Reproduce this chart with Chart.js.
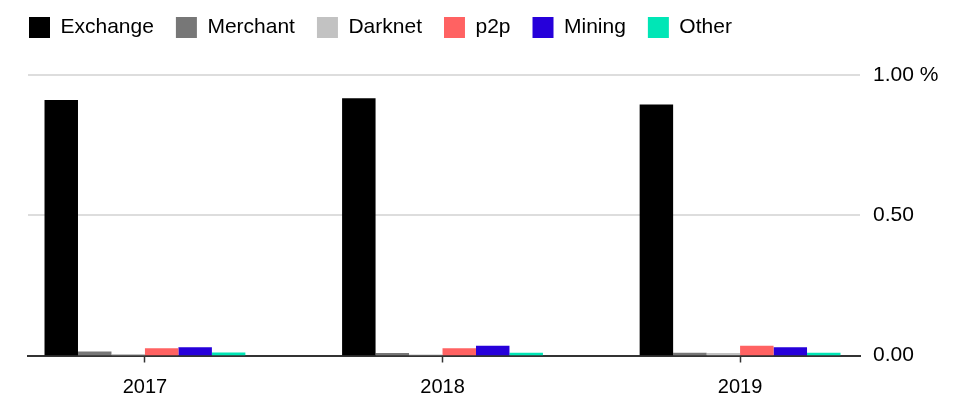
<!DOCTYPE html>
<html>
<head>
<meta charset="utf-8">
<script src="https://cdn.jsdelivr.net/npm/chart.js@4/dist/chart.umd.min.js"></script>
<style>
  html, body { margin: 0; padding: 0; background: #fff; }
  #wrap { width: 960px; height: 409px; }
</style>
</head>
<body>
<div id="wrap"><canvas id="myBarChart"></canvas></div>
<script>
// categories and values (share, 1.00 = 100 %)
var years = ['2017', '2018', '2019'];
var exchange = [0.911, 0.917, 0.895];
var merchant = [0.014, 0.009, 0.010];
var darknet = [0.005, 0.004, 0.009];
var p2p = [0.026, 0.026, 0.035];
var mining = [0.029, 0.035, 0.029];
var other = [0.011, 0.010, 0.010];
var yTicks = [0, 0.5, 1];

var FONT = '"Liberation Sans", Arial, Helvetica, sans-serif';

function pts(arr) {
    return arr.map(function (v, i) { return { x: i, y: v }; });
}

function ds(label, arr, color) {
    return {
        label: label,
        data: pts(arr),
        backgroundColor: color,
        borderWidth: 0,
        categoryPercentage: 0.675,
        barPercentage: 1.0
    };
}

var ctx = document.getElementById('myBarChart').getContext('2d');
var myBarChart = new Chart(ctx, {
    type: 'bar',
    data: {
        datasets: [
            ds('Exchange', exchange, '#000000'),
            ds('Merchant', merchant, '#777777'),
            ds('Darknet', darknet, '#c2c2c2'),
            ds('p2p', p2p, '#ff6262'),
            ds('Mining', mining, '#2600da'),
            ds('Other', other, '#00e6b6')
        ]
    },
    options: {
        responsive: true,
        maintainAspectRatio: false,
        animation: false,
        layout: { padding: { top: -5, left: 7, right: 0, bottom: 0 } },
        scales: {
            x: {
                type: 'linear',
                position: 'bottom',
                offset: false,
                min: -0.393,
                max: 2.403,
                afterBuildTicks: function (s) {
                    s.ticks = years.map(function (_, i) { return { value: i }; });
                },
                afterFit: function (s) { s.height = 53.5; },
                ticks: {
                    color: '#000',
                    font: { family: FONT, size: 20 },
                    padding: 13,
                    maxRotation: 0,
                    callback: function (v) { return years[v]; }
                },
                grid: {
                    display: true,
                    offset: false,
                    drawOnChartArea: false,
                    drawTicks: true,
                    tickLength: 7,
                    tickWidth: 1.5,
                    tickColor: '#333'
                },
                border: { display: true, color: '#333', width: 2 }
            },
            xtop: {
                type: 'linear',
                axis: 'x',
                position: 'top',
                offset: false,
                afterFit: function (s) { s.height = 27; },
                ticks: { display: false },
                grid: { display: false },
                border: { display: false }
            },
            yleft: {
                type: 'linear',
                axis: 'y',
                position: 'left',
                afterFit: function (s) { s.width = 21; },
                ticks: { display: false },
                grid: { display: false },
                border: { display: false }
            },
            y: {
                position: 'right',
                min: 0,
                max: 1,
                afterBuildTicks: function (s) {
                    s.ticks = yTicks.map(function (v) { return { value: v }; });
                },
                afterFit: function (s) { s.width = 100; },
                ticks: {
                    color: '#000',
                    font: { family: FONT, size: 21 },
                    padding: 13,
                    callback: function (v) {
                        return v === 1 ? '1.00 %' : v.toFixed(2);
                    }
                },
                grid: {
                    drawTicks: false,
                    lineWidth: 2,
                    color: function (c) {
                        return c.tick && c.tick.value === 0 ? 'rgba(0,0,0,0)' : '#dddddd';
                    }
                },
                border: { display: false }
            }
        },
        plugins: {
            legend: {
                display: true,
                position: 'top',
                align: 'start',
                labels: {
                    boxWidth: 21,
                    boxHeight: 21,
                    padding: 22,
                    color: '#000',
                    font: { family: FONT, size: 21 }
                }
            },
            tooltip: { enabled: false }
        }
    }
});
</script>
</body>
</html>
